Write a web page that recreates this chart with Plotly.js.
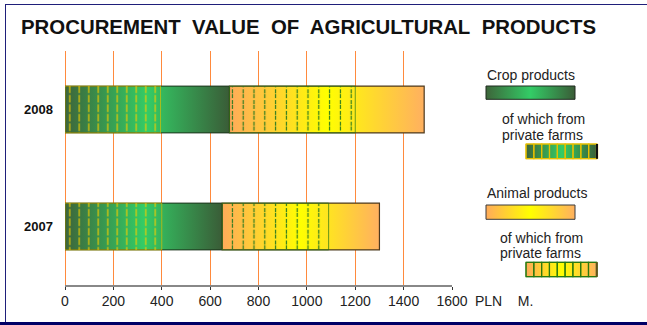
<!DOCTYPE html>
<html>
<head>
<meta charset="utf-8">
<script src="https://cdn.plot.ly/plotly-3.0.1.min.js"></script>
<style>
  html, body { margin: 0; padding: 0; background: #ffffff; }
  #wrap { position: relative; width: 647px; height: 325px; overflow: hidden; }
  #chart { width: 647px; height: 325px; }
  .frame { position: absolute; background: #1f1f7a; pointer-events: none; }
</style>
</head>
<body>
<div id="wrap">
  <div id="chart"></div>
  <div class="frame" style="left:5px;top:4px;width:642px;height:1px;"></div>
  <div class="frame" style="left:4.5px;top:4px;width:1.5px;height:318px;"></div>
  <div class="frame" style="left:0;top:321.7px;width:647px;height:3.3px;background:#000066;"></div>
</div>
<script>
// Procurement value of agricultural products, PLN million
const years = ['2008', '2007'];
const cropProducts = [680, 650];
const cropPrivate = [395, 400];
const animalProducts = [805, 650];
const animalPrivate = [520, 440];
const xTickVals = [0, 200, 400, 600, 800, 1000, 1200, 1400, 1600];
const xTickText = ['0', '200', '400', '600', '800', '1000', '1200', '1400', '1600'];
const unitLabel = 'PLN\u00A0\u00A0\u00A0 M.';
const chartTitle = 'PROCUREMENT\u00A0 VALUE\u00A0 OF\u00A0 AGRICULTURAL\u00A0 PRODUCTS';
const legendCrop = 'Crop products';
const legendAnimal = 'Animal products';
const legendPrivate1 = 'of which from';
const legendPrivate2 = 'private farms';

// placeholder fills, swapped for gradients once the SVG exists
const CROP_FILL = '#33cc66';
const ANIMAL_FILL = '#ffcc44';

const FONT = 'Liberation Sans, Arial, sans-serif';

// plot-area geometry in pixels
const M = { l: 65, r: 195, t: 51, b: 40 };
const W = 647, H = 325;
const PW = W - M.l - M.r, PH = H - M.t - M.b;
const px = x => (x - M.l) / PW;
const py = y => (H - M.b - y) / PH;

const cropBase = years.map(() => 0);

const traces = [
  {
    type: 'bar', orientation: 'h', name: legendCrop,
    y: years, x: cropProducts, base: cropBase, width: 0.4,
    marker: { color: CROP_FILL, line: { color: '#1d351d', width: 1 } },
    hoverinfo: 'skip'
  },
  {
    type: 'bar', orientation: 'h', name: legendAnimal,
    y: years, x: animalProducts, base: cropProducts, width: 0.4,
    marker: { color: ANIMAL_FILL, line: { color: '#4d3a1f', width: 1.2 } },
    hoverinfo: 'skip'
  },
  {
    type: 'bar', orientation: 'h', name: legendPrivate2,
    y: years, x: cropPrivate, base: cropBase, width: 0.4,
    marker: {
      color: 'rgba(0,0,0,0)',
      line: { color: 'rgba(220,190,0,0.7)', width: 1 },
      pattern: { shape: '|', fillmode: 'replace', fgcolor: '#f0cc00', bgcolor: 'rgba(0,0,0,0)', size: 9.5, solidity: 0.12 }
    },
    hoverinfo: 'skip'
  },
  {
    type: 'bar', orientation: 'h', name: legendPrivate2,
    y: years, x: animalPrivate, base: cropProducts, width: 0.4,
    marker: {
      color: 'rgba(0,0,0,0)',
      line: { color: 'rgba(40,120,20,0.7)', width: 1 },
      pattern: { shape: '|', fillmode: 'replace', fgcolor: '#2b7a1f', bgcolor: 'rgba(0,0,0,0)', size: 10.8, solidity: 0.11 }
    },
    hoverinfo: 'skip'
  }
];

// legend swatches, drawn at the right of the plot
const shapes = [];
function rect(x0, y0, x1, y1, fill, line, lw) {
  shapes.push({
    type: 'rect', xref: 'paper', yref: 'paper', layer: 'above',
    x0: px(x0), x1: px(x1), y0: py(y1), y1: py(y0),
    fillcolor: fill, line: { color: line, width: lw }
  });
}
function cells(x0, y0, x1, y1, n, line) {
  const w = (x1 - x0) / n;
  for (let i = 0; i < n; i++) rect(x0 + i * w, y0, x0 + (i + 1) * w, y1, 'rgba(0,0,0,0)', line, 1.2);
}
rect(486, 86, 575, 99.3, CROP_FILL, '#1e2a1e', 1);
rect(526, 144, 597.7, 158.7, CROP_FILL, '#e0bb00', 1);
cells(526, 144, 596.5, 158.7, 9, '#e6c000');
shapes.push({ type: 'line', xref: 'paper', yref: 'paper', layer: 'above',
  x0: px(597), x1: px(597), y0: py(158.7), y1: py(144), line: { color: '#111', width: 2 } });
rect(486, 205, 575, 219.3, ANIMAL_FILL, '#3a3a3a', 1);
rect(526, 262.3, 597.3, 276.7, ANIMAL_FILL, '#2a7a10', 1);
cells(526, 262.3, 596.3, 276.7, 9, '#2a7a10');
shapes.push({ type: 'line', xref: 'paper', yref: 'paper', layer: 'above',
  x0: px(596.8), x1: px(596.8), y0: py(276.7), y1: py(262.3), line: { color: '#6b4a20', width: 1.5 } });

function label(text, x, y) {
  return {
    text: text, xref: 'paper', yref: 'paper', x: px(x - 2), y: py(y),
    xanchor: 'left', yanchor: 'middle', showarrow: false,
    font: { family: FONT, size: 14, color: '#222' }
  };
}
const annotations = [
  label(legendCrop, 486.7, 75),
  label(legendPrivate1, 501.7, 119.3),
  label(legendPrivate2, 501.7, 135),
  label(legendAnimal, 486.7, 193.3),
  label(legendPrivate1, 500, 238.3),
  label(legendPrivate2, 500, 253.3),
  {
    text: unitLabel, xref: 'x', yref: 'paper', x: xTickVals[xTickVals.length - 1], y: py(301),
    xanchor: 'left', yanchor: 'middle', xshift: 21, showarrow: false,
    font: { family: FONT, size: 14, color: '#222' }
  }
];

const layout = {
  width: W, height: H,
  margin: M,
  paper_bgcolor: '#ffffff', plot_bgcolor: '#ffffff',
  barmode: 'overlay',
  showlegend: false,
  title: {
    text: chartTitle,
    xref: 'container', yref: 'container',
    x: 21 / W, xanchor: 'left', y: 1 - 27 / H, yanchor: 'middle',
    font: { family: FONT, size: 20.4, weight: 700, color: '#111' }
  },
  xaxis: {
    range: [0, 1600], fixedrange: true,
    tickvals: xTickVals, ticktext: xTickText,
    showgrid: true, gridcolor: '#ff8a3d', gridwidth: 1,
    zeroline: true, zerolinecolor: '#ff8a3d', zerolinewidth: 1,
    showline: true, linecolor: '#888888', linewidth: 1.5,
    ticks: 'outside', ticklen: 3, tickcolor: '#333', tickwidth: 1,
    tickfont: { family: FONT, size: 14, color: '#222' }
  },
  yaxis: {
    type: 'category', categoryorder: 'array', categoryarray: ['2007', '2008'],
    range: [-0.5, 1.5], fixedrange: true,
    showgrid: false, zeroline: false, showline: false, ticks: '',
    ticklabelstandoff: 11,
    tickfont: { family: FONT, size: 13, weight: 700, color: '#111' }
  },
  shapes: shapes,
  annotations: annotations
};

function applyGradients(gd) {
  const ns = 'http://www.w3.org/2000/svg';
  const svg = gd.querySelector('svg.main-svg');
  let defs = svg.querySelector('defs');
  if (!defs) { defs = document.createElementNS(ns, 'defs'); svg.insertBefore(defs, svg.firstChild); }
  function grad(id, stops) {
    const g = document.createElementNS(ns, 'linearGradient');
    g.setAttribute('id', id);
    g.setAttribute('x1', '0'); g.setAttribute('x2', '1');
    g.setAttribute('y1', '0'); g.setAttribute('y2', '0');
    stops.forEach(([o, c]) => {
      const s = document.createElementNS(ns, 'stop');
      s.setAttribute('offset', o); s.setAttribute('stop-color', c);
      g.appendChild(s);
    });
    defs.appendChild(g);
  }
  grad('gradCrop', [['0', '#3d653a'], ['0.5', '#33cc66'], ['1', '#3a5c37']]);
  grad('gradAnimal', [['0', '#ffab5a'], ['0.5', '#ffff00'], ['1', '#ffb060']]);
  gd.querySelectorAll('path').forEach(p => {
    const f = p.style.fill;
    if (f === 'rgb(51, 204, 102)') p.style.fill = 'url(#gradCrop)';
    else if (f === 'rgb(255, 204, 68)') p.style.fill = 'url(#gradAnimal)';
  });
  // the private-farm hatching is drawn as broken lines
  gd.querySelectorAll('pattern path').forEach(p => {
    p.style.strokeDasharray = '4,2';
  });
}

Plotly.newPlot('chart', traces, layout, { displayModeBar: false, staticPlot: true })
  .then(applyGradients);
</script>
</body>
</html>
